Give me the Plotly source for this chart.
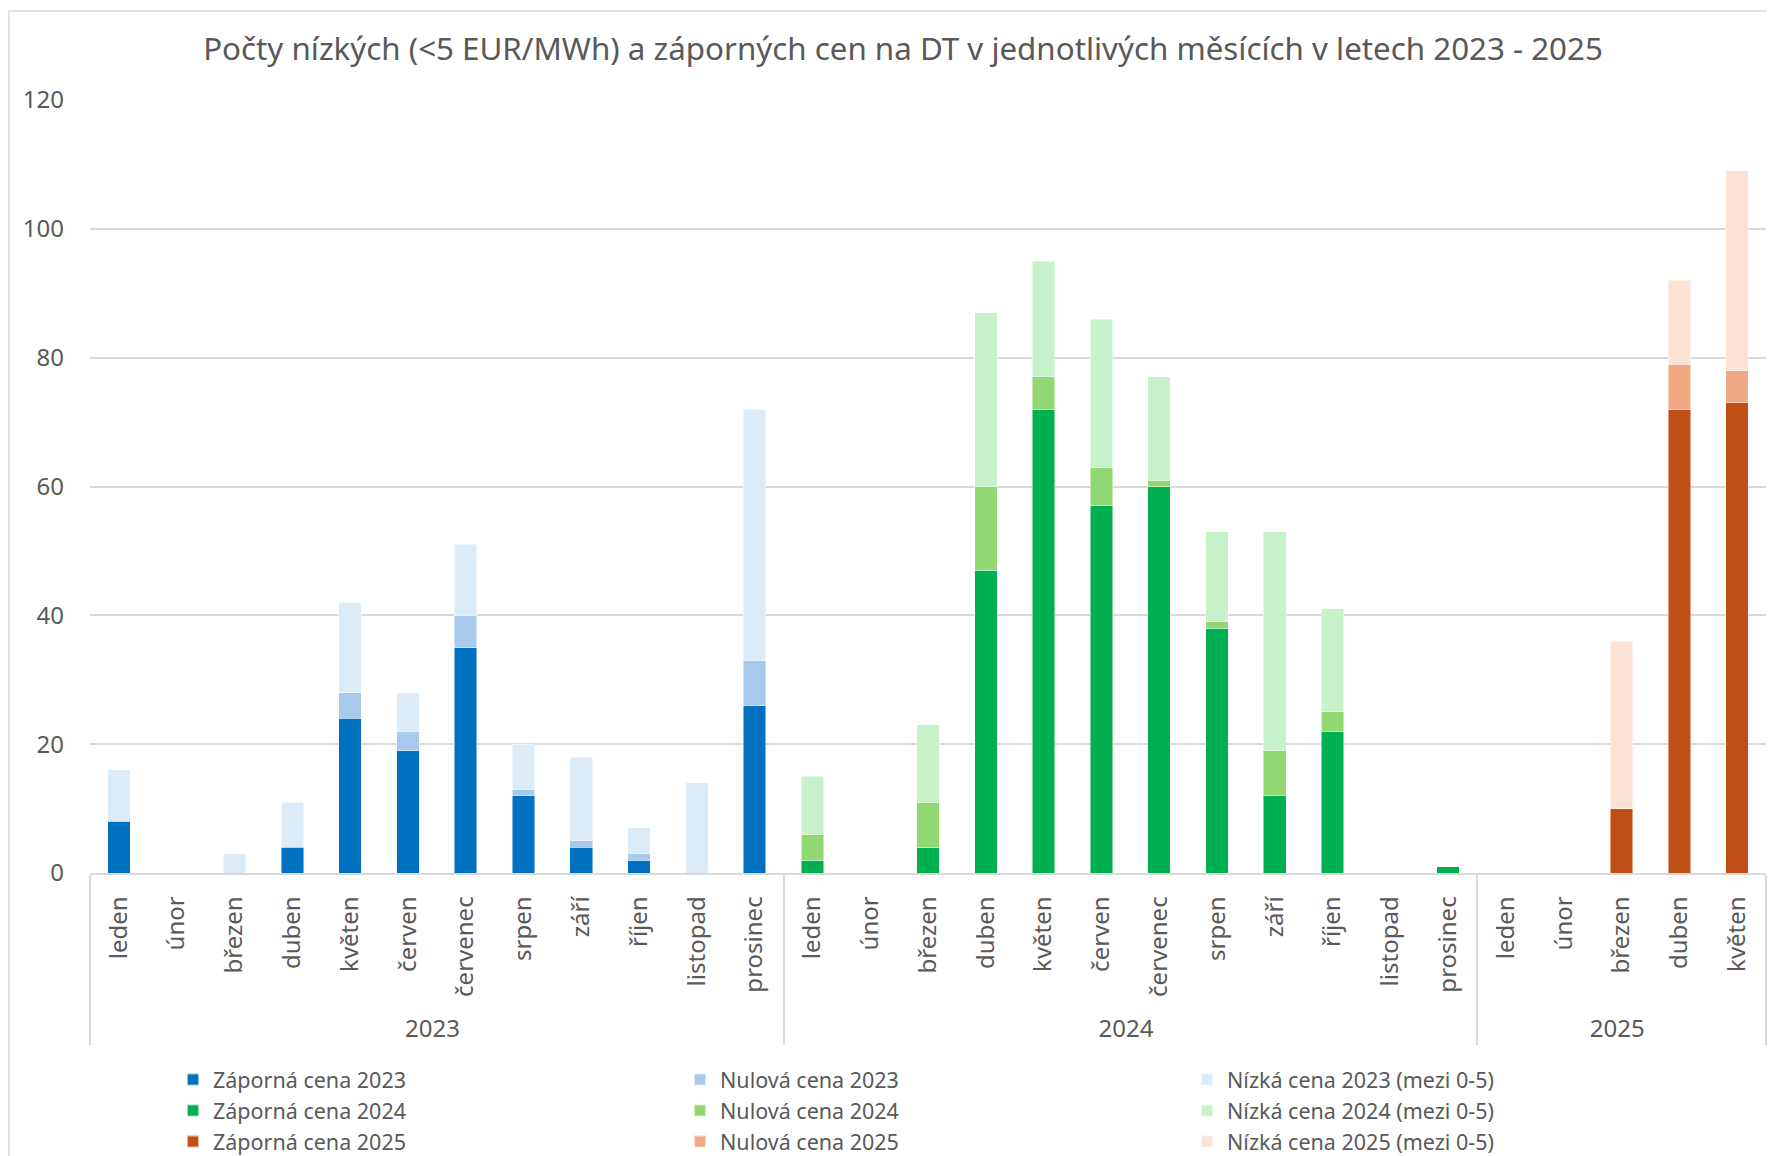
import plotly.graph_objects as go

months_2023 = ["leden", "únor", "březen", "duben", "květen", "červen", "červenec",
               "srpen", "září", "říjen", "listopad", "prosinec"]
months_2024 = list(months_2023)
months_2025 = ["leden", "únor", "březen", "duben", "květen"]
years = ["2023", "2024", "2025"]

# values per month (stack increments)
neg_2023 = [8, 0, 0, 4, 24, 19, 35, 12, 4, 2, 0, 26]
zero_2023 = [0, 0, 0, 0, 4, 3, 5, 1, 1, 1, 0, 7]
low_2023 = [8, 0, 3, 7, 14, 6, 11, 7, 13, 4, 14, 39]

neg_2024 = [2, 0, 4, 47, 72, 57, 60, 38, 12, 22, 0, 1]
zero_2024 = [4, 0, 7, 13, 5, 6, 1, 1, 7, 3, 0, 0]
low_2024 = [9, 0, 12, 27, 18, 23, 16, 14, 34, 16, 0, 0]

neg_2025 = [0, 0, 10, 72, 73]
zero_2025 = [0, 0, 0, 7, 5]
low_2025 = [0, 0, 26, 13, 31]

title = "Počty nízkých (<5 EUR/MWh) a záporných cen na DT v jednotlivých měsících v letech 2023 - 2025"

n23, n24, n25 = len(months_2023), len(months_2024), len(months_2025)
x_years = [years[0]] * n23 + [years[1]] * n24 + [years[2]] * n25
# a leading no-break space gives the rotated month labels a little more room below
x_months = ["\u00a0" + m for m in months_2023 + months_2024 + months_2025]


def place(vals, year):
    out = [None] * (n23 + n24 + n25)
    start = {"2023": 0, "2024": n23, "2025": n23 + n24}[year]
    for i, v in enumerate(vals):
        out[start + i] = v if v else None
    return out


series = [
    ("Záporná cena 2023", neg_2023, "2023", "#0070C0"),
    ("Nulová cena 2023", zero_2023, "2023", "#A6C9EC"),
    ("Nízká cena 2023 (mezi 0-5)", low_2023, "2023", "#DDEBF7"),
    ("Záporná cena 2024", neg_2024, "2024", "#00B050"),
    ("Nulová cena 2024", zero_2024, "2024", "#92D872"),
    ("Nízká cena 2024 (mezi 0-5)", low_2024, "2024", "#C6F1C9"),
    ("Záporná cena 2025", neg_2025, "2025", "#C04F15"),
    ("Nulová cena 2025", zero_2025, "2025", "#F1A983"),
    ("Nízká cena 2025 (mezi 0-5)", low_2025, "2025", "#FBE2D5"),
]

FONT = "Noto Sans"
GREY = "#595959"

fig = go.Figure()
for name, vals, yr, col in series:
    fig.add_trace(go.Bar(
        name=name,
        x=[x_years, x_months],
        y=place(vals, yr),
        marker=dict(color=col, line=dict(color="rgba(255,255,255,0.6)", width=0.8)),
    ))

# page body has an 8px margin, so the figure is placed at (8, 8)
W, H = 1767, 1148
L, R, T, B = 82, 9, 92, 283
pw = W - L - R
ph = H - T - B

fig.update_layout(
    width=W, height=H,
    barmode="stack",
    bargap=0.61,
    plot_bgcolor="white",
    paper_bgcolor="white",
    margin=dict(l=L, r=R, t=T, b=B, autoexpand=False),
    font=dict(family=FONT, color=GREY, size=23),
    title=dict(text=title, x=895 / W, xanchor="center", y=1 - 41 / H, yanchor="middle",
               font=dict(family=FONT, size=31.3, color=GREY)),
    showlegend=True,
    legend=dict(orientation="h", x=83 / pw, xanchor="left",
                y=(H - B - 1051) / ph, yanchor="top",
                entrywidth=462, entrywidthmode="pixels",
                font=dict(family=FONT, size=21.5, color=GREY),
                itemsizing="constant", tracegroupgap=0,
                traceorder="normal"),
    xaxis=dict(
        type="multicategory",
        showline=True, linecolor="#D9D9D9", linewidth=1.5,
        showdividers=True, dividercolor="#D9D9D9", dividerwidth=1.5,
        tickangle=-90,
        tickfont=dict(family=FONT, size=24, color=GREY),
        showgrid=False,
        ticks="",
        ticklabelstandoff=12,
        fixedrange=True,
    ),
    yaxis=dict(
        range=[0, 120], dtick=20,
        showgrid=True, gridcolor="#D9D9D9", gridwidth=1.5,
        zeroline=False, showline=False,
        tickfont=dict(family=FONT, size=24, color=GREY),
        ticks="", ticklabelstandoff=25,
    ),
    shapes=[dict(type="rect", xref="paper", yref="paper",
                 x0=(1 - L) / pw, x1=(W + 20 - L) / pw,
                 y0=-(B + 20) / ph, y1=(H - B - 3) / ph,
                 line=dict(color="#D9D9D9", width=1.5), fillcolor="rgba(0,0,0,0)",
                 layer="below")],
)

fig.write_html("out.html")
